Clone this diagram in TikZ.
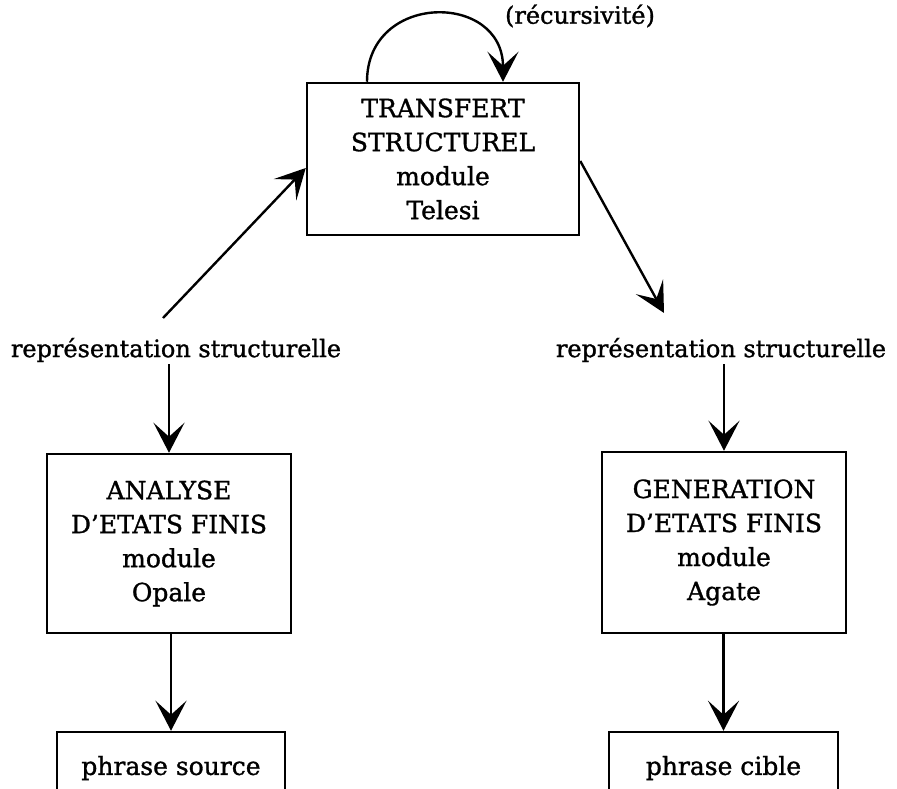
\documentclass[tikz,border=0pt]{standalone}
\usepackage{fontspec}
\setmainfont{DejaVu Serif}[BoldFont=DejaVu Serif,BoldFeatures={FakeBold=1.2}]
\usetikzlibrary{arrows.meta,calc}
\tikzset{
  vhead/.tip={Stealth[length=30pt,width=31pt,inset=14pt]},
}
\newcommand{\apos}{\char"0027\relax}
\begin{document}
\begin{tikzpicture}[x=1pt,y=-1pt,
  every node/.style={font=\bfseries\fontsize{25}{34}\selectfont},
  box/.style={draw,line width=2.5pt,align=center,inner sep=0pt},
  lbl/.style={inner sep=2pt,font=\bfseries\fontsize{24}{34}\selectfont},
  arr/.style={line width=2.4pt,arrows={-vhead}}]
\useasboundingbox (0,0) rectangle (897,789);
\clip (0,0) rectangle (897,789);
\node[box,minimum width=272pt,minimum height=152pt] (tbox) at (443,159) {TRANSFERT\\STRUCTUREL\\module\\Telesi};
\node[box,minimum width=244pt,minimum height=179pt] (lbox) at (169,543.5) {ANALYSE\\D\apos ETATS FINIS\\module\\Opale};
\node[box,minimum width=244pt,minimum height=181pt] (rbox) at (724,542.5) {GENERATION\\D\apos ETATS FINIS\\module\\Agate};
\node[box,minimum width=228pt,minimum height=72pt] (src) at (171,768) {phrase source};
\node[box,minimum width=229pt,minimum height=72pt] (cib) at (723.5,768) {phrase cible};
\node[lbl] (lrep) at (176,350) {représentation structurelle};
\node[lbl] (rrep) at (721,350) {représentation structurelle};
\node[lbl] (rec) at (580,16) {(récursivité)};
\coordinate (ls) at (163,318);
\coordinate (rt) at (664,313);
\draw[arr] (ls) -- ([yshift=-9pt]tbox.west);
\draw[arr] ([yshift=-2pt]tbox.east) -- (rt);
\draw[arr] ([xshift=-76pt]tbox.north) .. controls ([xshift=-76pt,yshift=90pt]tbox.north) and ([xshift=60pt,yshift=90pt]tbox.north) .. ([xshift=60pt]tbox.north);
\draw[arr] (lrep.south -| lbox.north) -- (lbox.north);
\draw[arr] (rrep.south -| rbox.north) -- (rbox.north);
\draw[arr] (lbox.south -| src.north) -- (src.north);
\draw[arr] (rbox.south -| cib.north) -- (cib.north);
\end{tikzpicture}
\end{document}
